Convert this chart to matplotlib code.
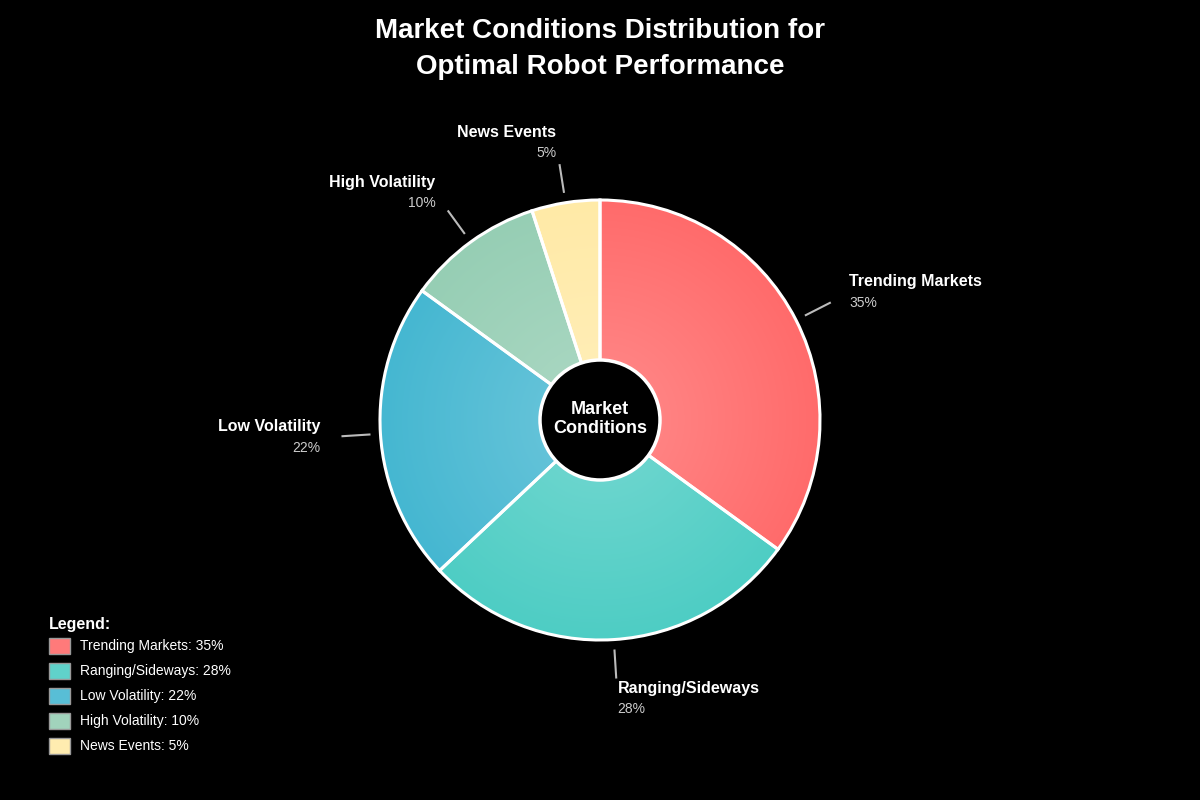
import numpy as np
import matplotlib as mpl
mpl.use('Agg')
import matplotlib.pyplot as plt
from matplotlib.patches import Rectangle, Circle
from matplotlib.colors import to_rgb

plt.rcParams['font.family'] = ['Liberation Sans', 'DejaVu Sans']

# data
categories = ['Trending Markets', 'Ranging/Sideways', 'Low Volatility',
              'High Volatility', 'News Events']
shares = [35, 28, 22, 10, 5]
colors = ['#FF6B6B', '#4ECDC4', '#45B7D1', '#96CEB4', '#FFEAA7']

# layout in pixels (y up)
W, H = 1200, 800
cx, cy, R, r_hole = 600, 380, 220, 60

fig = plt.figure(figsize=(12, 8), dpi=100, facecolor='black')
ax = fig.add_axes([0, 0, 1, 1])
ax.set_facecolor('black')

wedges, _ = ax.pie(shares, center=(cx, cy), radius=R, startangle=90,
                   counterclock=False, frame=True,
                   wedgeprops=dict(edgecolor='white', linewidth=2.2, facecolor='none'))
ax.set_xlim(0, W)
ax.set_ylim(0, H)
ax.set_aspect('equal')
ax.axis('off')

# radial gradient fill clipped to every wedge
xs = np.linspace(cx - R, cx + R, 400)
ys = np.linspace(cy - R, cy + R, 400)
gx, gy = np.meshgrid(xs, ys)
dist = np.clip(np.hypot(gx - cx, gy - cy) / R, 0, 1)
for w, c in zip(wedges, colors):
    base = np.array(to_rgb(c))
    light = base + (1 - base) * 0.22
    t = (1 - dist)[..., None]
    img = base + (light - base) * t
    im = ax.imshow(img, extent=[cx - R, cx + R, cy - R, cy + R], origin='lower',
                   zorder=0.5, interpolation='bilinear')
    im.set_clip_path(w)
    w.set_zorder(1)

# leader lines + labels
start = 0
for name, v in zip(categories, shares):
    mid = np.deg2rad(90 - (start + v / 2) / sum(shares) * 360)
    start += v
    dx, dy = np.cos(mid), np.sin(mid)
    ax.plot([cx + 231 * dx, cx + 258 * dx], [cy + 231 * dy, cy + 258 * dy],
            color='#bbbbbb', lw=1.5, zorder=2)
    lx, ly = cx + 280 * dx, cy + 280 * dy
    ha = 'left' if dx > 0 else 'right'
    ax.text(lx, ly + 11, name, color='white', fontsize=11.5, fontweight='bold',
            ha=ha, va='center')
    ax.text(lx, ly - 10, f'{v}%', color='#cccccc', fontsize=10,
            ha=ha, va='center')

# center hole
ax.add_patch(Circle((cx, cy), r_hole, facecolor='black', edgecolor='white',
                    lw=2.5, zorder=3))
ax.text(cx, cy + 1, 'Market\nConditions', color='white', fontsize=13,
        fontweight='bold', ha='center', va='center', linespacing=1.15, zorder=4)

# title
ax.text(W / 2, H - 49, 'Market Conditions Distribution for\nOptimal Robot Performance',
        color='white', fontsize=20, fontweight='bold', ha='center', va='center',
        linespacing=1.5)

# legend
ax.text(49, H - 624, 'Legend:', color='white', fontsize=11.5, fontweight='bold',
        ha='left', va='center')
for i, (name, v, c) in enumerate(zip(categories, shares, colors)):
    yy = H - 646 - 25 * i
    base = np.array(to_rgb(c))
    ax.add_patch(Rectangle((49, yy - 8), 21, 16, facecolor=base + (1 - base) * 0.1,
                           edgecolor='#999999', lw=1))
    ax.text(80, yy, f'{name}: {v}%', color='white', fontsize=10,
            ha='left', va='center')

fig.savefig('out.png', dpi=100, facecolor='black')
